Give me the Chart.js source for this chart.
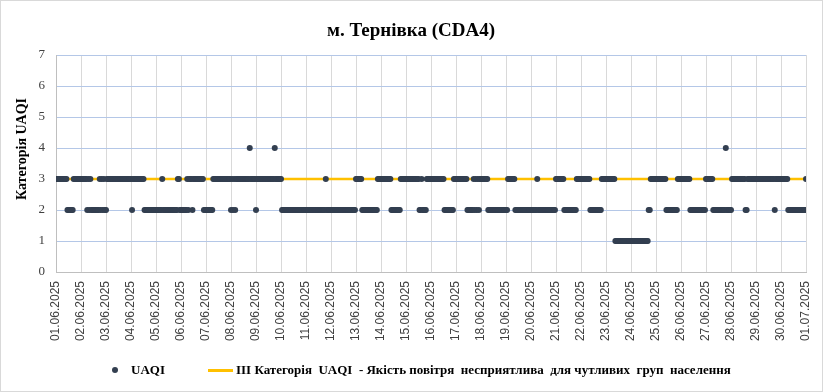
<!DOCTYPE html>
<html>
<head>
<meta charset="utf-8">
<script src="https://cdn.jsdelivr.net/npm/chart.js@4.4.1/dist/chart.umd.min.js"></script>
<style>
  html, body { margin: 0; padding: 0; background: #fff; }
  #wrap { position: relative; width: 823px; height: 392px; overflow: hidden; background: #fff; }
  #chart { position: absolute; left: 0; top: 0; }
  #frame { position: absolute; left: 0; top: 0; width: 823px; height: 392px; box-sizing: border-box; border: 1px solid #d9d9d9; pointer-events: none; }
  .title { position: absolute; left: 411px; top: 30px; transform: translate(-50%, -50%); font: bold 19px "Liberation Serif", serif; color: #000; white-space: nowrap; }
  .ytitle { position: absolute; left: 22px; top: 149px; transform: translate(-50%, -50%) rotate(-90deg); font: bold 14px "Liberation Serif", serif; color: #000; white-space: nowrap; }
  .leg { position: absolute; font: bold 13px "Liberation Serif", serif; color: #000; white-space: pre; line-height: 14px; }
  .dot { position: absolute; width: 6px; height: 6px; border-radius: 50%; background: #333f50; }
  .bar { position: absolute; height: 3px; background: #ffc000; }
</style>
</head>
<body>
<div id="wrap">
  <canvas id="chart" width="823" height="392"></canvas>
  <div class="title">м. Тернівка (CDA4)</div>
  <div class="ytitle">Категорія UAQI</div>
  <div class="dot" style="left:112px; top:367px;"></div>
  <div class="leg" style="left:131px; top:363px;">UAQI</div>
  <div class="bar" style="left:208px; top:369px; width:25px;"></div>
  <div class="leg" style="left:236px; top:363px;">III Категорія  UAQI  - Якість повітря  несприятлива  для чутливих  груп  населення</div>
  <div id="frame"></div>
</div>
<script>
// day labels on the x axis (one tick per day, 24 hourly points between ticks)
const dayLabels = [
  '01.06.2025', '02.06.2025', '03.06.2025', '04.06.2025', '05.06.2025', '06.06.2025',
  '07.06.2025', '08.06.2025', '09.06.2025', '10.06.2025', '11.06.2025', '12.06.2025',
  '13.06.2025', '14.06.2025', '15.06.2025', '16.06.2025', '17.06.2025', '18.06.2025',
  '19.06.2025', '20.06.2025', '21.06.2025', '22.06.2025', '23.06.2025', '24.06.2025',
  '25.06.2025', '26.06.2025', '27.06.2025', '28.06.2025', '29.06.2025', '30.06.2025',
  '01.07.2025'
];

// hourly UAQI category, one string of 24 hours per day (last entry: 01.07 00:00)
const hourlyUAQI = [
  '333333333332222223333333', // 01.06
  '333333232322222222323232', // 02.06
  '233333333333333333333333', // 03.06
  '323333333333322222222222', // 04.06
  '222222322222222222222332', // 05.06
  '222222323332333333333322', // 06.06
  '222222233333333333333333', // 07.06
  '232323333333333333433333', // 08.06
  '233333333333333333433333', // 09.06
  '322222222222222222222222', // 10.06
  '222222222222222222232222', // 11.06
  '222222222222222222222222', // 12.06
  '333333222222222222222333', // 13.06
  '333333333322222222233333', // 14.06
  '333333333333322322223333', // 15.06
  '333333333333322222222233', // 16.06
  '333333333332222223232323', // 17.06
  '333333322222222222222222', // 18.06
  '223333333222222222222222', // 19.06
  '222222322222222222222222', // 20.06
  '333333332222222222223333', // 21.06
  '333333333222222222223333', // 22.06
  '333333333111111111111111', // 23.06
  '111111111111111112233333', // 24.06
  '333333333322222222222333', // 25.06
  '333333333222222222222222', // 26.06
  '333333322222222222242222', // 27.06
  '233333333333332233333333', // 28.06
  '333333333333333333233333', // 29.06
  '333333322222222222222222', // 30.06
  '3'                         // 01.07
];

const thresholdCategory = 3;
const seriesLabel = 'UAQI';
const thresholdLabel = 'III Категорія  UAQI  - Якість повітря  несприятлива  для чутливих  груп  населення';

// build {x: hour, y: category} points from the day strings
const points = [];
hourlyUAQI.forEach((day, d) => {
  day.split('').forEach((c, h) => {
    points.push({ x: d * 24 + h, y: Number(c) });
  });
});
const lastHour = (dayLabels.length - 1) * 24;

new Chart(document.getElementById('chart').getContext('2d'), {
  type: 'scatter',
  data: {
    datasets: [
      {
        label: seriesLabel,
        data: points,
        backgroundColor: '#333f50',
        borderColor: '#333f50',
        borderWidth: 0,
        pointRadius: 3,
        showLine: false
      },
      {
        label: thresholdLabel,
        data: [{ x: 0, y: thresholdCategory }, { x: lastHour, y: thresholdCategory }],
        borderColor: '#ffc000',
        backgroundColor: '#ffc000',
        borderWidth: 2.5,
        pointRadius: 0,
        showLine: true
      }
    ]
  },
  options: {
    responsive: false,
    animation: false,
    layout: { padding: { left: 0, right: 17, top: 55, bottom: 0 } },
    plugins: {
      legend: { display: false },
      tooltip: { enabled: false },
      title: { display: false }
    },
    scales: {
      x: {
        type: 'linear',
        min: 0,
        max: lastHour,
        afterBuildTicks: (scale) => {
          scale.ticks = dayLabels.map((_, i) => ({ value: i * 24 }));
        },
        afterFit: (scale) => {
          scale.height = 120;
          scale.paddingLeft = 0;
          scale.paddingRight = 0;
        },
        ticks: {
          autoSkip: false,
          minRotation: 90,
          maxRotation: 90,
          padding: 9,
          color: '#404040',
          font: { family: 'Liberation Sans', size: 12 },
          callback: (v) => dayLabels[Math.round(v / 24)]
        },
        grid: { color: '#d9d9d9', drawTicks: false },
        border: { color: '#bfbfbf' }
      },
      y: {
        min: 0,
        max: 7,
        afterFit: (scale) => { scale.width = 56; },
        ticks: {
          stepSize: 1,
          padding: 11,
          color: '#404040',
          font: { family: 'Liberation Serif', size: 13 }
        },
        grid: { color: '#b4c7e7', drawTicks: false },
        border: { color: '#bfbfbf' }
      }
    }
  }
});
</script>
</body>
</html>
